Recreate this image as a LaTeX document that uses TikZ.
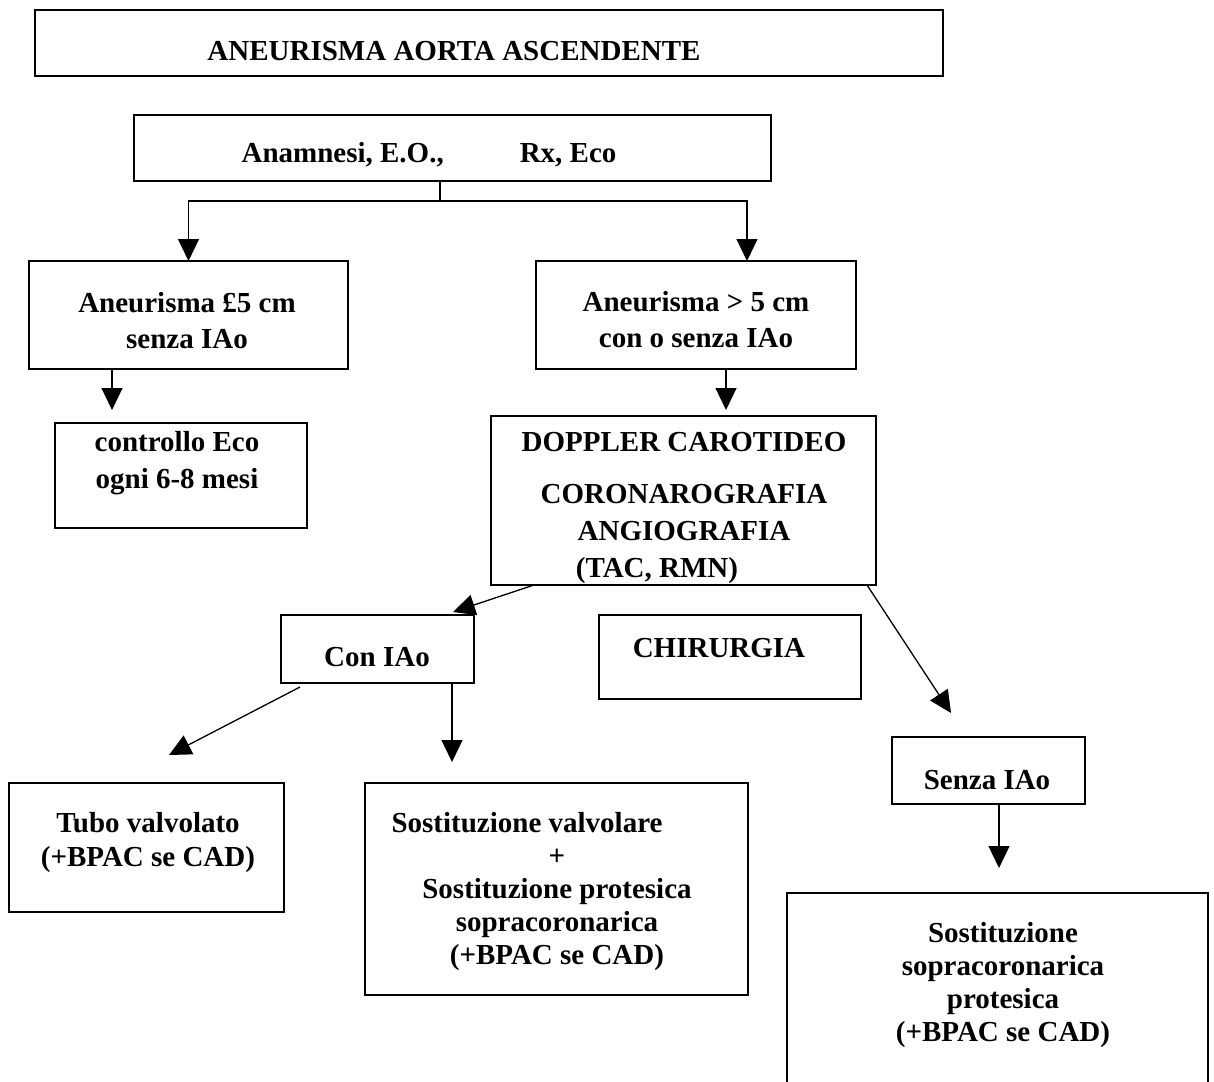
\documentclass[tikz,border=0pt]{standalone}
\usepackage{fontspec}
\setmainfont{Liberation Serif}
\usetikzlibrary{arrows.meta}

\begin{document}
\begin{tikzpicture}[x=0.5pt, y=-0.5pt,
  box/.style={rectangle, draw, line width=0.7pt, inner sep=0pt, outer sep=0pt},
  thickbox/.style={box, line width=1.35pt},
  txt/.style={font=\fontsize{14.5}{#1}\selectfont\bfseries, align=center, inner sep=0pt},
  txt/.default=16.5pt,
  arr/.style={-{Triangle[width=10.5pt,length=11pt]}, line width=0.65pt}]
\useasboundingbox (0,0) rectangle (1214,1081);
\clip (0,0) rectangle (1214,1081);

% boxes
\node[thickbox, minimum width=454pt, minimum height=33pt] (title) at (489,43) {};
\node[box, minimum width=318.5pt, minimum height=33pt] (hist) at (452.5,148) {};
\node[box, minimum width=159.5pt, minimum height=54pt] (small) at (188.5,315) {};
\node[box, minimum width=160pt, minimum height=54pt] (large) at (696,315) {};
\node[box, minimum width=126pt, minimum height=52.5pt] (ctrl) at (181,475.5) {};
\node[box, minimum width=192.5pt, minimum height=84.5pt] (exams) at (683.5,500.5) {};
\node[thickbox, minimum width=96.5pt, minimum height=34pt] (con) at (377.5,649) {};
\node[box, minimum width=131pt, minimum height=42pt] (chir) at (730,657) {};
\node[thickbox, minimum width=96.5pt, minimum height=33.5pt] (senza) at (988.5,770.5) {};
\node[box, minimum width=137.5pt, minimum height=64.5pt] (tubo) at (146.5,847.5) {};
\node[box, minimum width=191.5pt, minimum height=106pt] (sostval) at (556.5,889) {};
\node[box, minimum width=210.5pt, minimum height=108.5pt] (sostsopra) at (997.5,1001.5) {};

% texts
\node[txt] (title-t) at (454,51) {ANEURISMA AORTA ASCENDENTE};
\node[txt] (hist-t) at (429,155) {Anamnesi, E.O.,\hspace{38pt}Rx, Eco};
\node[txt=18pt] (small-t) at (187,321) {Aneurisma £5 cm\\senza IAo};
\node[txt=18pt] (large-t) at (696,320) {Aneurisma > 5 cm\\con o senza IAo};
\node[txt=18.5pt] (ctrl-t) at (177,463) {controllo Eco\\ogni 6-8 mesi};
\node[txt=18.5pt] (exams-t) at (684,508) {DOPPLER CAROTIDEO\\[7.5pt]CORONAROGRAFIA\\ANGIOGRAFIA\hspace*{21pt}\\(TAC, RMN)\hspace*{27pt}};
\node[txt] (con-t) at (377,657) {Con IAo};
\node[txt] (chir-t) at (719,648) {CHIRURGIA};
\node[txt] (senza-t) at (987,780) {Senza IAo};
\node[txt=17pt] (tubo-t) at (148,843) {Tubo valvolato\\(+BPAC se CAD)};
\node[txt] (sostval-t) at (557,892) {Sostituzione valvolare\hspace*{30pt}\\+\\Sostituzione protesica\\sopracoronarica\\(+BPAC se CAD)};
\node[txt] (sostsopra-t) at (1003,985) {Sostituzione\\sopracoronarica\\protesica\\(+BPAC se CAD)};

% connectors
\coordinate (split) at (440,201);
\coordinate (rj) at (747,201);
\draw[line width=0.65pt] (hist.south -| split) -- (split);
\draw[arr] (split) -| (small.north);
\draw[arr] (split) -- (rj) -- (rj |- large.north);
\coordinate (a1) at (112,410);
\draw[arr] (small.south -| a1) -- (a1);
\coordinate (a2) at (726,410);
\draw[arr] (large.south -| a2) -- (a2);
\coordinate (b3) at (534,585);
\coordinate (a3) at (453,612);
\draw[arr] (exams.south -| b3) -- (a3);
\coordinate (b4) at (867,585);
\coordinate (a4) at (951,713);
\draw[arr] (exams.south -| b4) -- (a4);
\coordinate (b5) at (300,687);
\coordinate (a5) at (169,755);
\draw[arr] (b5) -- (a5);
\coordinate (a6) at (452,762);
\draw[arr] (con.south -| a6) -- (a6);
\coordinate (a7) at (999,868);
\draw[arr] (senza.south -| a7) -- (a7);
\end{tikzpicture}
\end{document}
